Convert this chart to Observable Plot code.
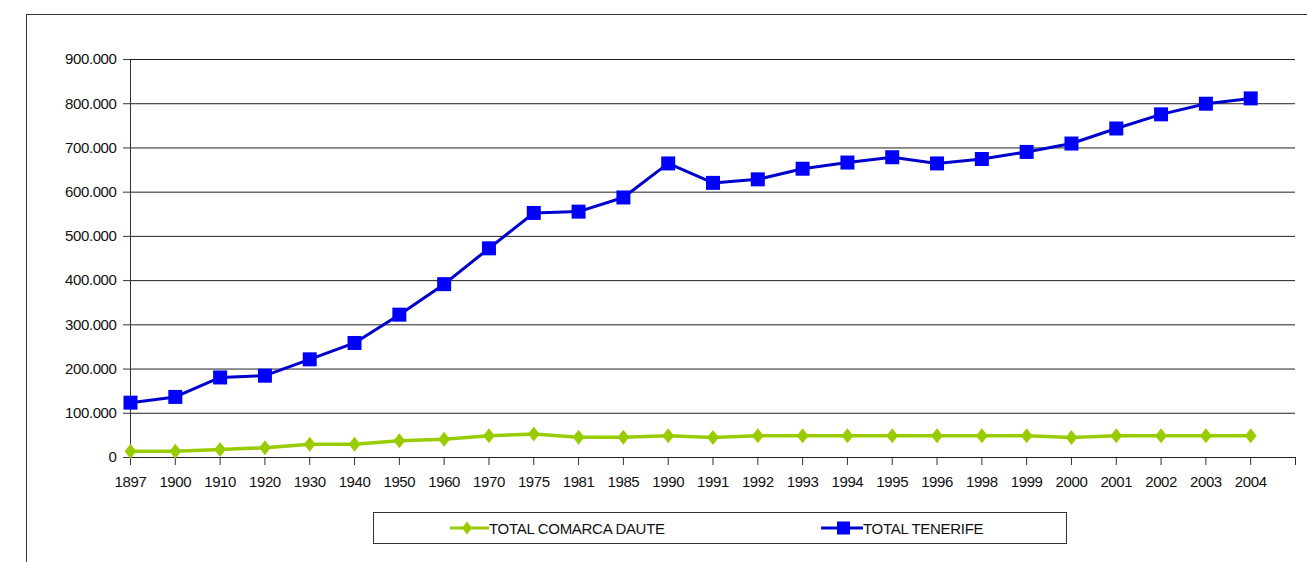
<!DOCTYPE html>
<html>
<head>
<meta charset="utf-8">
<script src="https://cdn.jsdelivr.net/npm/d3@7"></script>
<script src="https://cdn.jsdelivr.net/npm/@observablehq/plot@0.6"></script>
<style>
  html, body { margin: 0; padding: 0; background: #fff; overflow: hidden; }
  body { width: 1307px; height: 562px; position: relative;
         font-family: "Liberation Sans", Arial, sans-serif; }
  #frame { position: absolute; left: 26px; top: 14px; width: 1281px; height: 548px;
           border-left: 1px solid #333; border-top: 1px solid #333; box-sizing: border-box; }
  #chart { position: absolute; left: 0; top: 0; }
  #chart svg text { font-family: "Liberation Sans", Arial, sans-serif; }
  #legend { position: absolute; left: 373px; top: 512px; width: 694px; height: 32px;
            border: 1px solid #333; box-sizing: border-box; background: #fff;
            font-size: 15px; color: #111; }
  .item { position: absolute; top: 0; height: 30px; display: flex; align-items: center; }
  .item svg { display: block; }
  .item span { letter-spacing: -0.3px; }
  #mask { position: absolute; right: 0; top: 16px; width: 9px; height: 40px; background: #fff; z-index: 10; }
</style>
</head>
<body>
<div id="frame"></div>
<div id="chart"></div>
<div id="mask"></div>
<div id="legend">
  <div class="item" style="left:76px">
    <svg width="39" height="18" id="lg1"></svg><span id="t1"></span>
  </div>
  <div class="item" style="left:447px">
    <svg width="42" height="18" id="lg2"></svg><span id="t2"></span>
  </div>
</div>
<script>
// ---- data ----
const years = ["1897","1900","1910","1920","1930","1940","1950","1960","1970","1975","1981","1985","1990","1991","1992","1993","1994","1995","1996","1998","1999","2000","2001","2002","2003","2004"];
const tenerife = [124000,137000,181000,185000,222000,259000,323000,392000,473000,553000,556000,588000,665000,621000,629000,653000,667000,679000,665000,675000,691000,710000,744000,776000,800000,812000];
const daute = [14000,14000,18000,22000,30000,30000,38000,41000,49000,53000,46000,46000,49000,45000,49000,49000,49000,49000,49000,49000,49000,45000,49000,49000,49000,49000];
const yTicks = [0,100000,200000,300000,400000,500000,600000,700000,800000,900000];
const seriesNames = ["TOTAL COMARCA DAUTE", "TOTAL TENERIFE"];
const seriesColors = ["#99CC00", "#0000CC"];
const markerColors = ["#99CC00", "#0000FF"];

const data = years.map((y, i) => ({year: y, tenerife: tenerife[i], daute: daute[i]}));
const xDomain = [...years, " "];

const tallDiamond = {
  draw(ctx, size) {
    const r = Math.sqrt(size / Math.PI);
    const w = r * 0.78, h = r;
    ctx.moveTo(0, -h); ctx.lineTo(w, 0); ctx.lineTo(0, h); ctx.lineTo(-w, 0); ctx.closePath();
  }
};
const square = {
  draw(ctx, size) {
    const r = Math.sqrt(size / Math.PI);
    ctx.rect(-r, -r, 2 * r, 2 * r);
  }
};

const fmt = d => d === 0 ? "0" : d3.format(",")(d).replace(/,/g, ".");

const chart = Plot.plot({
  width: 1307,
  height: 495,
  marginLeft: 130,
  marginRight: 12,
  marginTop: 59,
  marginBottom: 38,
  style: {fontSize: "15px", color: "#111", background: "transparent"},
  x: {type: "point", domain: xDomain, padding: 0, round: false, label: null},
  y: {domain: [0, 900000], label: null},
  marks: [
    Plot.gridY(yTicks, {stroke: "#222", strokeOpacity: 1, strokeWidth: 1}),
    Plot.ruleX([years[0]], {stroke: "#333", strokeWidth: 1}),
    Plot.ruleY([0], {stroke: "#222", strokeWidth: 1}),
    Plot.axisY(yTicks, {tickFormat: fmt, tickSize: 7, tickPadding: 7, label: null, stroke: "#333"}),
    Plot.axisX(xDomain, {tickSize: 8, tickPadding: 11, label: null, stroke: "#333", tickFormat: d => d}),
    Plot.line(data, {x: "year", y: "daute", stroke: seriesColors[0], strokeWidth: 3.5}),
    Plot.dot(data, {x: "year", y: "daute", symbol: tallDiamond, r: 7.5, fill: markerColors[0], stroke: "none"}),
    Plot.line(data, {x: "year", y: "tenerife", stroke: seriesColors[1], strokeWidth: 3}),
    Plot.dot(data, {x: "year", y: "tenerife", symbol: square, r: 7, fill: markerColors[1], stroke: "none"})
  ]
});
chart.querySelectorAll("text").forEach(t => t.setAttribute("letter-spacing", "-0.4"));
document.getElementById("chart").appendChild(chart);

// legend
document.getElementById("t1").textContent = seriesNames[0];
document.getElementById("t2").textContent = seriesNames[1];
const l1 = d3.select("#lg1");
l1.append("line").attr("x1", 0).attr("x2", 39).attr("y1", 9).attr("y2", 9).attr("stroke", seriesColors[0]).attr("stroke-width", 3);
l1.append("path").attr("d", "M17,2.5L22,9L17,15.5L12,9Z").attr("fill", markerColors[0]);
const l2 = d3.select("#lg2");
l2.append("line").attr("x1", 0).attr("x2", 42).attr("y1", 9).attr("y2", 9).attr("stroke", seriesColors[1]).attr("stroke-width", 3);
l2.append("rect").attr("x", 16).attr("y", 2.5).attr("width", 13).attr("height", 13).attr("fill", markerColors[1]);
</script>
</body>
</html>
